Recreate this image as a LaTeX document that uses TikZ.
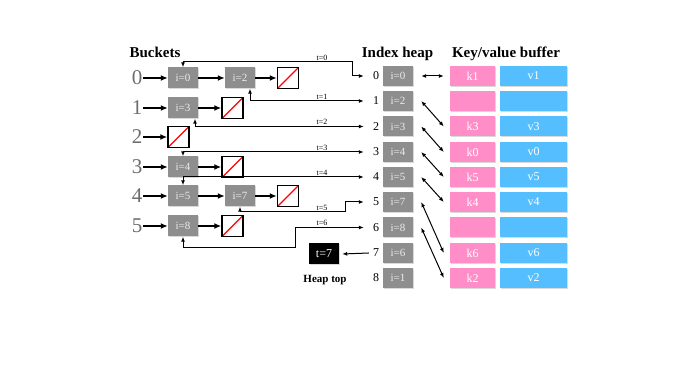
\documentclass[tikz,border=0pt]{standalone}
\usepackage{fontspec}
\setmainfont{Liberation Serif}
\usetikzlibrary{arrows.meta,shadows}

\definecolor{boxgray}{HTML}{8E8E8E}
\definecolor{keypink}{HTML}{FF8EC8}
\definecolor{valblue}{HTML}{55BEFF}

\tikzset{
    title/.style={font=\fontsize{15}{18}\selectfont\bfseries, anchor=base},
    bucketnum/.style={font=\fontsize{21}{24}\selectfont, text=gray!85!black, inner sep=1pt},
    entry/.style={fill=boxgray, text=white!85!gray, minimum width=30, minimum height=21, inner sep=0pt,
        font=\fontsize{11}{13}\selectfont, drop shadow={shadow xshift=1pt, shadow yshift=-1pt, opacity=0.3}},
    nullbox/.style={draw, line width=1.5pt, fill=white, minimum size=21, inner sep=0pt,
        path picture={\draw[red, line width=1.3pt] (path picture bounding box.south west) -- (path picture bounding box.north east);}},
    idx/.style={font=\fontsize{12}{14}\selectfont, minimum width=24, inner sep=0pt},
    keybox/.style={entry, fill=keypink, text=white, minimum width=45, minimum height=20, font=\fontsize{12}{14}\selectfont},
    valbox/.style={entry, fill=valblue, text=white, minimum width=67, minimum height=20, font=\fontsize{12}{14}\selectfont},
    topbox/.style={entry, fill=black, text=white, font=\fontsize{12}{14}\selectfont},
    bucketarrow/.style={-{Latex[length=7pt,width=6pt]}, line width=1.6pt},
    tlink/.style={{Latex[length=5pt,width=4pt]}-{Latex[length=5pt,width=4pt]}, line width=1pt},
    tlabel/.style={font=\fontsize{8}{9}\selectfont, anchor=south, inner sep=1.5pt}
}

\begin{document}
\begin{tikzpicture}[x=1pt, y=-1pt]
                        \useasboundingbox (0,0) rectangle (673,379);

                        \node[title] (buckets) at (155,58) {Buckets};
                        \node[title] (heaptitle) at (397.5,58) {Index heap};
                        \node[title] (buftitle) at (506,58) {Key/value buffer};

                        % buckets
                        \node[bucketnum] (b0) at (137,78) {0};
                        \node[bucketnum] (b1) at (137,108) {1};
                        \node[bucketnum] (b2) at (137,137) {2};
                        \node[bucketnum] (b3) at (137,167) {3};
                        \node[bucketnum] (b4) at (137,196) {4};
                        \node[bucketnum] (b5) at (137,226) {5};

                        \node[entry] (e00) at (183,78) {i=0};
                        \node[entry] (e01) at (240,78) {i=2};
                        \node[nullbox] (n0) at (288,78) {};
                        \node[entry] (e10) at (183,108) {i=3};
                        \node[nullbox] (n1) at (232.5,108) {};
                        \node[nullbox] (n2) at (178.5,137) {};
                        \node[entry] (e30) at (183,167) {i=4};
                        \node[nullbox] (n3) at (232.5,167) {};
                        \node[entry] (e40) at (183,196) {i=5};
                        \node[entry] (e41) at (240,196) {i=7};
                        \node[nullbox] (n4) at (288,196) {};
                        \node[entry] (e50) at (183,226) {i=8};
                        \node[nullbox] (n5) at (232.5,226) {};

                        \draw[bucketarrow] (b0) -- (e00);
                        \draw[bucketarrow] (e00) -- (e01);
                        \draw[bucketarrow] (e01) -- (n0);
                        \draw[bucketarrow] (b1) -- (e10);
                        \draw[bucketarrow] (e10) -- (n1);
                        \draw[bucketarrow] (b2) -- (n2);
                        \draw[bucketarrow] (b3) -- (e30);
                        \draw[bucketarrow] (e30) -- (n3);
                        \draw[bucketarrow] (b4) -- (e40);
                        \draw[bucketarrow] (e40) -- (e41);
                        \draw[bucketarrow] (e41) -- (n4);
                        \draw[bucketarrow] (b5) -- (e50);
                        \draw[bucketarrow] (e50) -- (n5);

                        % index heap
                        \node[idx] (h0) at (376,76) {0};
                        \node[idx] (h1) at (376,101) {1};
                        \node[idx] (h2) at (376,126.5) {2};
                        \node[idx] (h3) at (376,152) {3};
                        \node[idx] (h4) at (376,177) {4};
                        \node[idx] (h5) at (376,202) {5};
                        \node[idx] (h6) at (376,227.5) {6};
                        \node[idx] (h7) at (376,253) {7};
                        \node[idx] (h8) at (376,278) {8};

                        \node[entry, minimum height=20] (hb0) at (398,76) {i=0};
                        \node[entry, minimum height=20] (hb1) at (398,101) {i=2};
                        \node[entry, minimum height=20] (hb2) at (398,126.5) {i=3};
                        \node[entry, minimum height=20] (hb3) at (398,152) {i=4};
                        \node[entry, minimum height=20] (hb4) at (398,177) {i=5};
                        \node[entry, minimum height=20] (hb5) at (398,202) {i=7};
                        \node[entry, minimum height=20] (hb6) at (398,227.5) {i=8};
                        \node[entry, minimum height=20] (hb7) at (398,253) {i=6};
                        \node[entry, minimum height=20] (hb8) at (398,278) {i=1};

                        \node[topbox] (top) at (324,254) {t=7};
                        \node[font=\fontsize{11}{13}\selectfont\bfseries] (toplabel) at (325,280) {Heap top};

                        % key/value buffer
                        \node[keybox] (kb0) at (472.5,76) {k1};
                        \node[keybox] (kb1) at (472.5,101) {};
                        \node[keybox] (kb2) at (472.5,126.5) {k3};
                        \node[keybox] (kb3) at (472.5,152) {k0};
                        \node[keybox] (kb4) at (472.5,177) {k5};
                        \node[keybox] (kb5) at (472.5,202) {k4};
                        \node[keybox] (kb6) at (472.5,227.5) {};
                        \node[keybox] (kb7) at (472.5,253) {k6};
                        \node[keybox] (kb8) at (472.5,278) {k2};

                        \node[valbox] (vb0) at (533.5,76) {v1};
                        \node[valbox] (vb1) at (533.5,101) {};
                        \node[valbox] (vb2) at (533.5,126.5) {v3};
                        \node[valbox] (vb3) at (533.5,152) {v0};
                        \node[valbox] (vb4) at (533.5,177) {v5};
                        \node[valbox] (vb5) at (533.5,202) {v4};
                        \node[valbox] (vb6) at (533.5,227.5) {};
                        \node[valbox] (vb7) at (533.5,253) {v6};
                        \node[valbox] (vb8) at (533.5,278) {v2};

                        \draw[tlink] ([xshift=8pt]hb0.east) -- ([xshift=-6pt]kb0.west);
                        \draw[tlink] ([xshift=8pt]hb1.east) -- ([xshift=-6pt]kb2.west);
                        \draw[tlink] ([xshift=8pt]hb2.east) -- ([xshift=-6pt]kb3.west);
                        \draw[tlink] ([xshift=8pt]hb3.east) -- ([xshift=-6pt]kb4.west);
                        \draw[tlink] ([xshift=8pt]hb4.east) -- ([xshift=-6pt]kb5.west);
                        \draw[tlink] ([xshift=8pt]hb5.east) -- ([xshift=-6pt]kb7.west);
                        \draw[tlink] ([xshift=8pt]hb6.east) -- ([xshift=-6pt]kb8.west);

                        % bucket entries <-> heap slots
                        \draw[tlink] (e00.north) |- (352,62) |- (h0.west);
                        \draw[tlink] ([xshift=10pt]e01.south) |- (h1.west);
                        \draw[tlink] ([xshift=12pt]e10.south) |- (h2.west);
                        \draw[tlink] (e30.north) |- (h3.west);
                        \draw[tlink] (e40.north) |- (h4.west);
                        \draw[tlink] (e41.south) |- (345,212) |- (h5.west);
                        \draw[tlink] (e50.south) |- (295,248) |- (h6.west);
                        \draw[tlink, {Latex[length=5pt,width=4pt]}-] ([xshift=3pt]top.east) -- ([xshift=5pt]h7.west);

                        \node[tlabel] (t0) at (322,62) {t=0};
                        \node[tlabel] (t1) at (322,101) {t=1};
                        \node[tlabel] (t2) at (322,126.5) {t=2};
                        \node[tlabel] (t3) at (322,152) {t=3};
                        \node[tlabel] (t4) at (322,177) {t=4};
                        \node[tlabel] (t5) at (322,212) {t=5};
                        \node[tlabel] (t6) at (322,227.5) {t=6};
                    \end{tikzpicture}
\end{document}
